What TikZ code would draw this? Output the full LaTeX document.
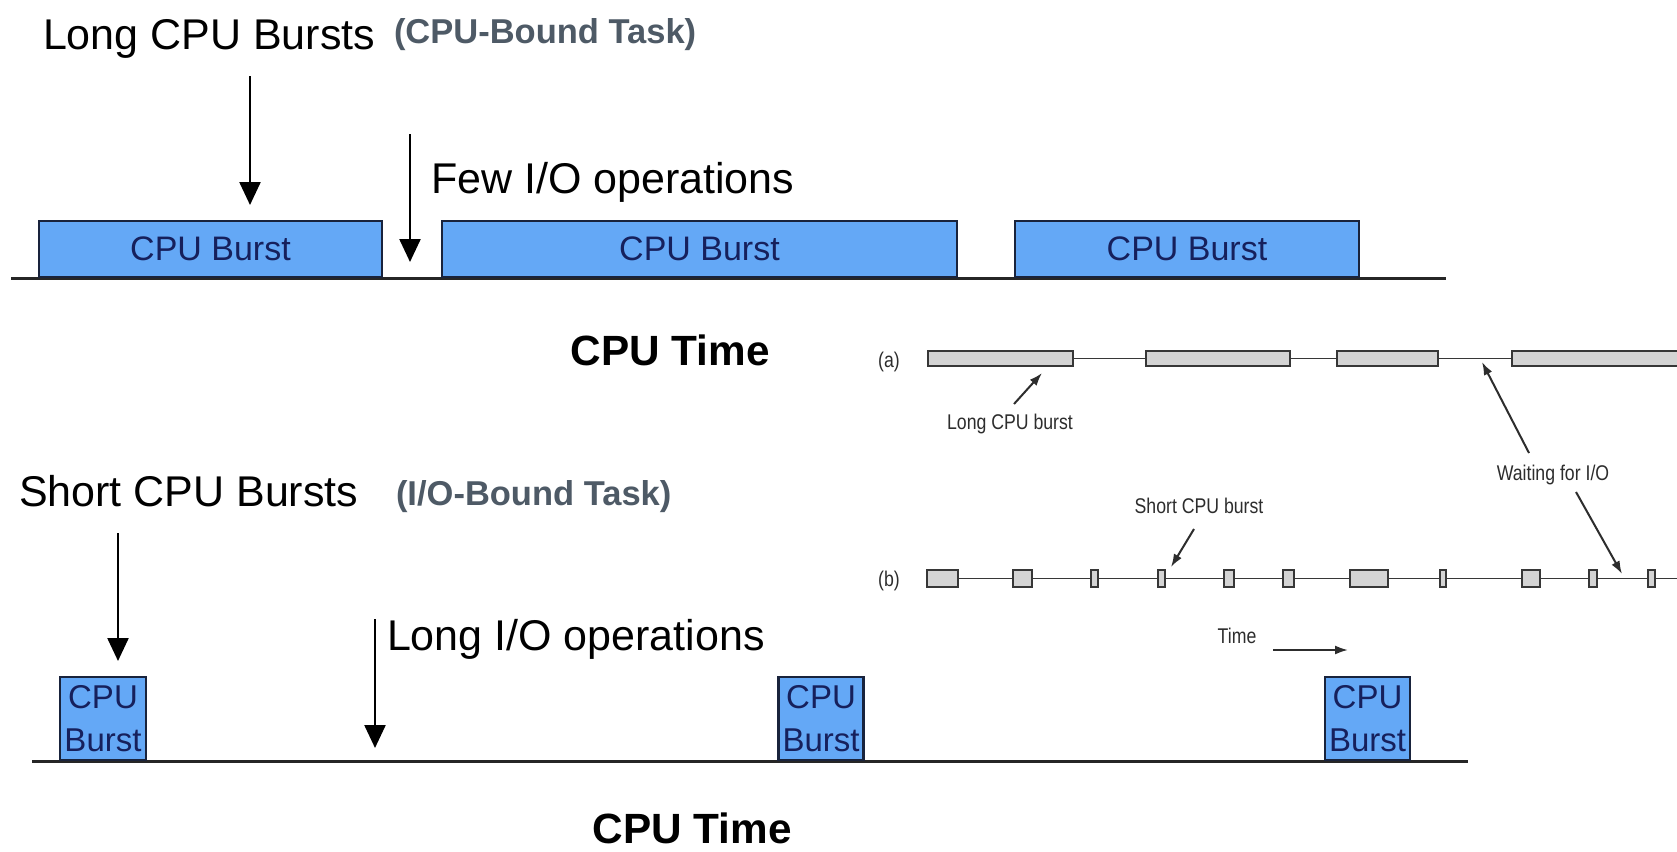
\documentclass[tikz,border=0pt]{standalone}
\usepackage{fontspec}
\setmainfont{Liberation Sans}
\newfontfamily\narrowfont[FakeStretch=0.83]{Liberation Sans}
\usetikzlibrary{arrows.meta,positioning}
\definecolor{burstblue}{RGB}{100,168,246}
\definecolor{burstedge}{RGB}{25,35,60}
\definecolor{bursttext}{RGB}{22,32,92}
\definecolor{tasktext}{RGB}{78,90,102}
\definecolor{iogray}{RGB}{212,212,212}
\definecolor{ioedge}{RGB}{55,55,55}
\definecolor{labelgray}{RGB}{45,45,45}
\tikzset{every picture/.style={>={Triangle[length=23pt,width=21pt]}}}

\begin{document}
\begin{tikzpicture}[
    x=1pt, y=-1pt,
    every node/.style={inner sep=0pt, outer sep=0pt},
    bigtext/.style={font=\fontsize{43}{50}\selectfont},
    tasklbl/.style={font=\fontsize{34.5}{40}\selectfont\bfseries, text=tasktext},
    timelbl/.style={font=\fontsize{42.3}{48}\selectfont\bfseries},
    burst/.style={draw=burstedge, line width=2.4pt, fill=burstblue, text=bursttext,
        font=\fontsize{34}{40}\selectfont},
    shortburst/.style={burst, align=center, font=\fontsize{33}{43}\selectfont},
    timeline/.style={line width=3pt, black!85},
    bigarrow/.style={->, line width=2.4pt},
    iobox/.style={draw=ioedge, line width=2pt, fill=iogray},
    ioline/.style={line width=1.8pt, ioedge},
    smalllbl/.style={font=\narrowfont\fontsize{21.3}{24}\selectfont, text=labelgray},
    smallarrow/.style={-{Latex[length=13pt,width=9pt]}, line width=2pt, labelgray}
]
    \useasboundingbox (0,0) rectangle (1677,851);
    \fill[white] (0,0) rectangle (1677,851);
    \clip (0,0) rectangle (1677,851);

    \begin{scope}
      % CPU-bound task
      \node[bigtext, anchor=base west] (longlbl) at (43,50) {Long CPU Bursts};
      \node[tasklbl, anchor=base west] (cputask) at (394,44) {(CPU-Bound Task)};

      \coordinate (lineL) at (11,278);
      \coordinate (lineR) at (1446,278);
      \draw[timeline] (lineL) -- (lineR);

      \node[burst, minimum width=343, minimum height=56] (b1) at (210.5,249) {CPU Burst};
      \node[burst, minimum width=515, minimum height=56] (b2) at (699.5,249) {CPU Burst};
      \node[burst, minimum width=344, minimum height=56] (b3) at (1187,249) {CPU Burst};

      % arrows
      \coordinate (burstTail) at (250,76);
      \coordinate (burstTip) at (250,205);
      \draw[bigarrow] (burstTail) -- (burstTip);
      \coordinate (fewTail) at (410,134);
      \coordinate (fewTip) at (410,262);
      \draw[bigarrow] (fewTail) -- (fewTip);
      \node[bigtext, anchor=base west] (fewlbl) at (431,193) {Few I/O operations};

      \node[timelbl, anchor=base] (time1) at (670,365) {CPU Time};
    \end{scope}

    \begin{scope}
      % I/O-bound task
      \node[bigtext, anchor=base west] (shortlbl) at (19,506) {Short CPU Bursts};
      \node[tasklbl, anchor=base west] (iotask) at (396,505) {(I/O-Bound Task)};

      \coordinate (line2L) at (32,761);
      \coordinate (line2R) at (1468,761);
      \draw[timeline] (line2L) -- (line2R);

      \node[shortburst, minimum width=86, minimum height=83] (s1) at (103,718.5) {CPU\\Burst};
      \node[shortburst, minimum width=85, minimum height=83] (s2) at (821,718.5) {CPU\\Burst};
      \node[shortburst, minimum width=85, minimum height=83] (s3) at (1367.5,718.5) {CPU\\Burst};

      % arrows
      \coordinate (shortTail) at (118,533);
      \coordinate (shortTip) at (118,661);
      \draw[bigarrow] (shortTail) -- (shortTip);
      \coordinate (longTail) at (375,619);
      \coordinate (longTip) at (375,748);
      \draw[bigarrow] (longTail) -- (longTip);
      \node[bigtext, anchor=base west] (longiolbl) at (387,650) {Long I/O operations};

      \node[timelbl, anchor=base] (time2) at (692,843) {CPU Time};
    \end{scope}

    \begin{scope}
      % (a) and (b) timelines
      \node[smalllbl] (alabel) at (889,362) {(a)};
      \draw[ioline] (927,358.5) -- (1700,358.5);
      \foreach \l/\r [count=\i] in {927/1074,1145/1291,1336/1439,1511/1720}{
        \pgfmathsetmacro\boxw{\r-\l-2}
        \pgfmathsetmacro\xm{(\r+\l)/2}
        \node[iobox, minimum width=\boxw, minimum height=15] (a\i) at (\xm,358.5) {};
      }

      \node[smalllbl] (blabel) at (889,581) {(b)};
      \draw[ioline] (926,578.5) -- (1700,578.5);
      \foreach \l/\r [count=\i] in {926/959,1012/1033,1090/1099,1157/1166,1223/1235,
          1282/1295,1349/1389,1439/1447,1521/1541,1588/1598,1647/1656}{
        \pgfmathsetmacro\boxw{\r-\l-2}
        \pgfmathsetmacro\xm{(\r+\l)/2}
        \node[iobox, minimum width=\boxw, minimum height=17] (bb\i) at (\xm,578.5) {};
      }

      % labels
      \node[smalllbl] (longcpu) at (1010,424) {Long CPU burst};
      \coordinate (lcTail) at (1014,404);
      \coordinate (lcTip) at (1042,373);
      \draw[smallarrow] (lcTail) -- (lcTip);

      \node[smalllbl] (waitio) at (1553,475) {Waiting for I/O};
      \coordinate (waTailA) at (1529,453);
      \coordinate (waTipA) at (1482,362);
      \draw[smallarrow] (waTailA) -- (waTipA);
      \coordinate (waTailB) at (1576,492);
      \coordinate (waTipB) at (1622,574);
      \draw[smallarrow] (waTailB) -- (waTipB);

      \node[smalllbl] (shortcpu) at (1199,506) {Short CPU burst};
      \coordinate (scTail) at (1194,529);
      \coordinate (scTip) at (1171,567);
      \draw[smallarrow] (scTail) -- (scTip);

      \node[smalllbl] (timelbl) at (1237,636) {Time};
      \coordinate (tTail) at (1273,650);
      \coordinate (tTip) at (1348,650);
      \draw[smallarrow] (tTail) -- (tTip);
    \end{scope}
\end{tikzpicture}
\end{document}
